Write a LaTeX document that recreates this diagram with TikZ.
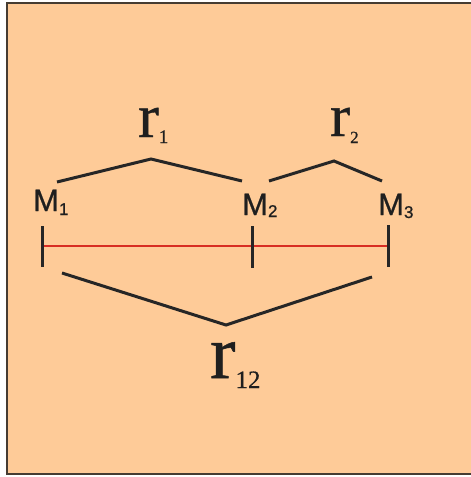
\documentclass[tikz,border=0pt]{standalone}
\usepackage{fontspec}
\setmainfont{Liberation Serif}
\newfontfamily\rfont{Liberation Serif}[FakeBold=0.7]
\newfontfamily\labsans{Liberation Sans}[FakeBold=0.8]
\definecolor{peach}{RGB}{254,203,152}
\definecolor{framecol}{RGB}{70,60,50}
\definecolor{redline}{RGB}{215,45,35}
\newcommand{\rlab}[4]{{\rfont\fontsize{#1}{#1}\selectfont r}\raisebox{#4}{\rfont\fontsize{#2}{#2}\selectfont #3}}
\newcommand{\mlab}[2]{{\labsans\fontsize{31}{31}\selectfont M}\raisebox{#2}{\labsans\fontsize{17}{17}\selectfont #1}}
\begin{document}
\begin{tikzpicture}[x=1pt,y=-1pt,
  bracket/.style={line width=3pt,draw=black!85,line join=miter},
  tick/.style={line width=3pt,draw=black!85},
  sep/.style={line width=2.4pt,draw=redline},
  lab/.style={inner sep=0pt,anchor=base west,text=black!88}]
\useasboundingbox (0,0) rectangle (471,477);
\begin{scope}
\clip (0,0) rectangle (471,477);
\draw[fill=peach,draw=framecol,line width=1.6pt] (7,3) rectangle (500,474);
\end{scope}
% labels
\node[lab] (r1) at (138,137) {\rlab{62}{19}{1}{-6pt}};
\node[lab] (r2) at (330,136) {\rlab{60}{17}{2}{-7pt}};
\node[lab] (r12) at (210,378) {\rlab{76}{25}{12}{-10pt}};
\node[lab] (M1) at (33,211) {\mlab{1}{-4pt}};
\node[lab] (M2) at (242,215) {\mlab{2}{-2pt}};
\node[lab] (M3) at (378,215) {\mlab{3}{-3pt}};
% bracket coordinates
\coordinate (a1) at (57,182); \coordinate (p1) at (151,159); \coordinate (b1) at (242,181);
\coordinate (a2) at (269,181); \coordinate (p2) at (334,161); \coordinate (b2) at (382,181);
\coordinate (a3) at (62,273); \coordinate (p3) at (226,325); \coordinate (b3) at (372,277);
\draw[bracket] (a1) -- (p1) -- (b1);
\draw[bracket] (a2) -- (p2) -- (b2);
\draw[bracket] (a3) -- (p3) -- (b3);
% ticks and red line
\coordinate (t1t) at (42,226); \coordinate (t1b) at (42,267);
\coordinate (t2t) at (252,226); \coordinate (t2b) at (252,268);
\coordinate (t3t) at (388,225); \coordinate (t3b) at (388,267);
\coordinate (s1) at (42,246); \coordinate (s3) at (388,246);
\draw[sep] (s1) -- (s3);
\draw[tick] (t1t) -- (t1b);
\draw[tick] (t2t) -- (t2b);
\draw[tick] (t3t) -- (t3b);
\end{tikzpicture}
\end{document}
